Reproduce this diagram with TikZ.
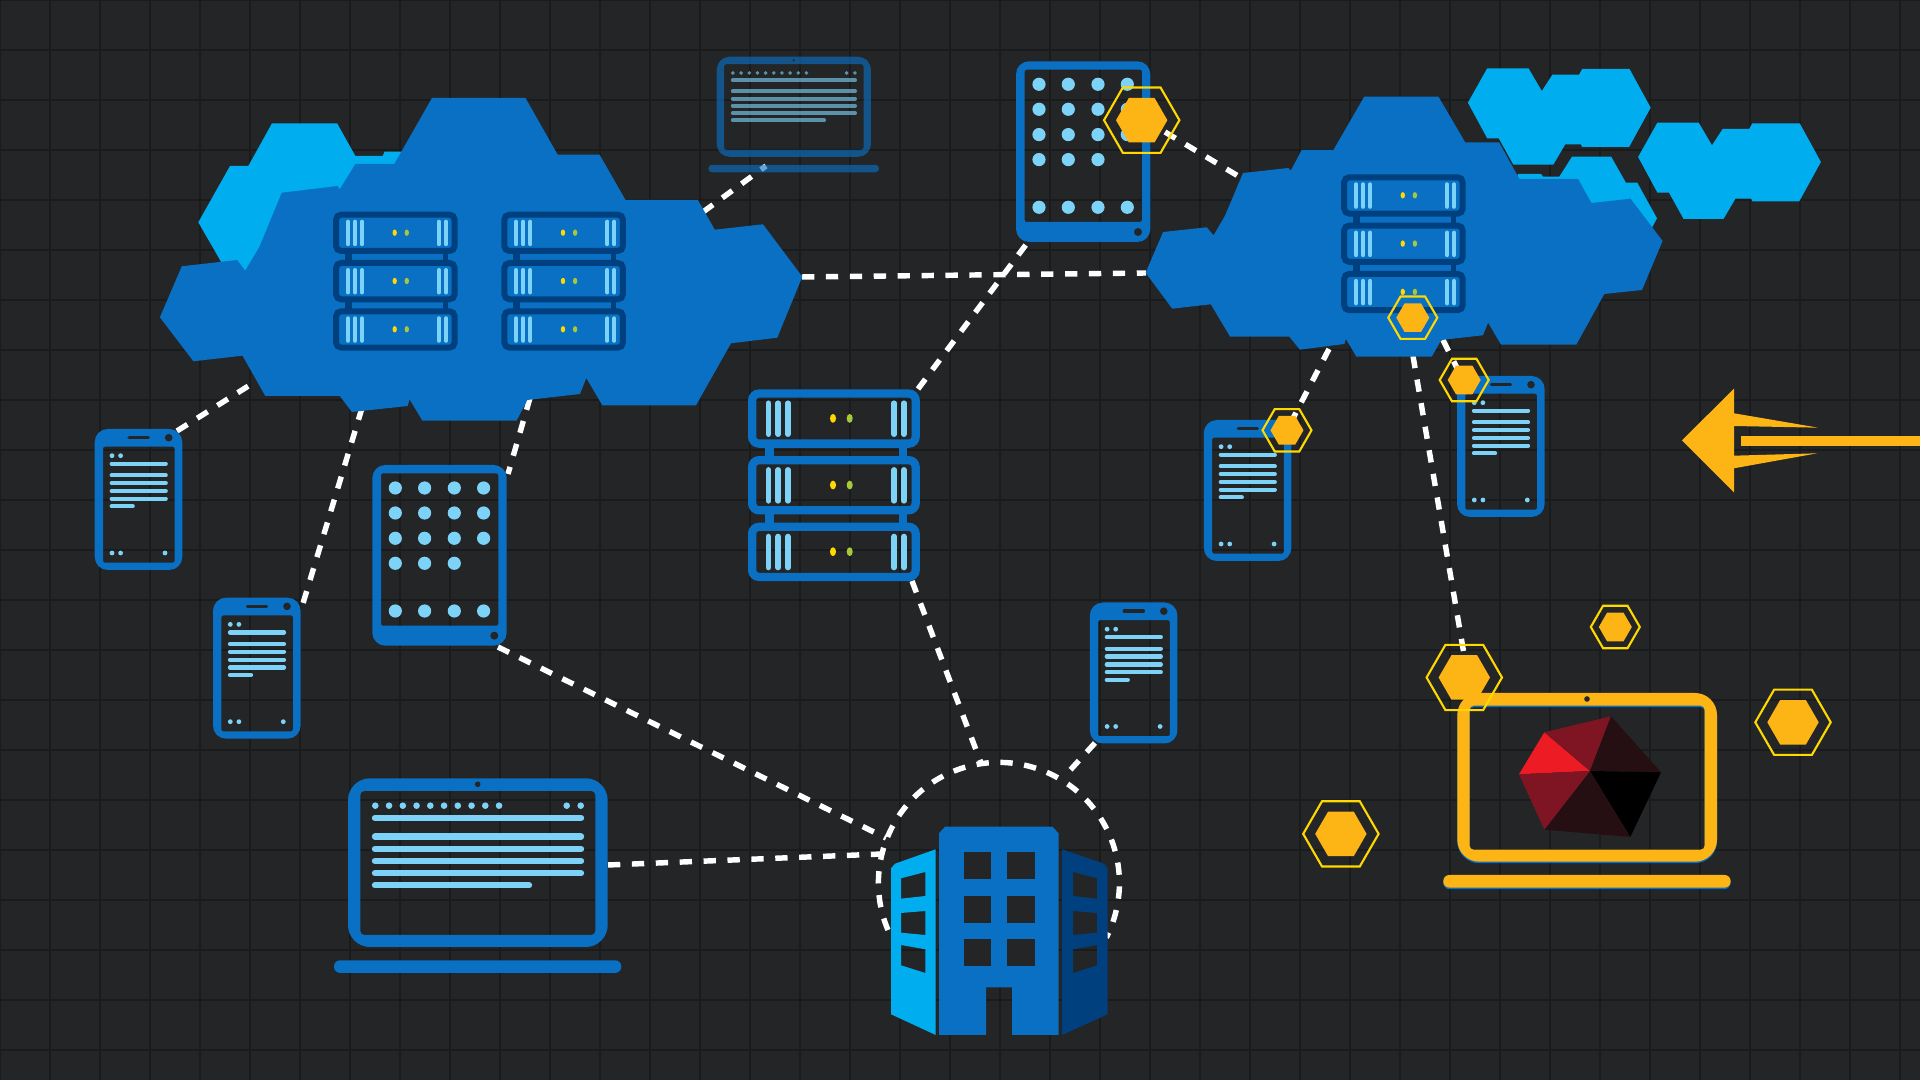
\documentclass[tikz,border=0pt]{standalone}
\definecolor{bgdark}{HTML}{232527}
\definecolor{gridline}{HTML}{191B1D}
\definecolor{cloudblue}{HTML}{0A70C4}
\definecolor{skyblue}{HTML}{00AEEF}
\definecolor{navyblue}{HTML}{00407F}
\definecolor{screenlight}{HTML}{7DD3F7}
\definecolor{amber}{HTML}{FDB515}
\definecolor{hexyellow}{HTML}{FFD800}
\definecolor{ledgreen}{HTML}{A6C83A}
\definecolor{logored}{HTML}{ED1C24}
\definecolor{logomid}{HTML}{7F1522}
\definecolor{logodark}{HTML}{260F12}
\def\pxw{0.01cm}
\tikzset{
  linkline/.style={white,line width=1.55pt,dash pattern=on 3.5pt off 3.3pt},
  lightbar/.style={screenlight,line cap=round},
  hexline/.style={hexyellow,line width=0.6pt},
}
\newcommand{\serverrack}[4]{
  \begin{scope}[shift={(#1,#2)},scale=#3]
    \foreach \u in {0,1,2}
    {
      \draw[#4,line width=#3*6*\pxw,rounded corners=#3*5*\pxw](3,\u*48.3+3)rectangle(121.5,\u*48.3+39.3);
      \foreach \x in {14.8,21.9,28.9,105.9,112.9}
      {
        \draw[lightbar,line width=#3*4*\pxw](\x,\u*48.3+10)--(\x,\u*48.3+32.5);
      }
      \fill[hexyellow](61.6,\u*48.3+21)ellipse(2.2 and 3.2);
      \fill[ledgreen](73.7,\u*48.3+21)ellipse(2.2 and 3.2);
    }
    \foreach \u in {0,1}
    {
      \fill[#4](12,\u*48.3+41)rectangle(18.5,\u*48.3+49);
      \fill[#4](109.5,\u*48.3+41)rectangle(115,\u*48.3+49);
    }
  \end{scope}
}
\newcommand{\phoneicon}[2]{
  \begin{scope}[shift={(#1,#2)}]
    \fill[cloudblue,even odd rule][rounded corners=13*\pxw](0,0)rectangle(87.6,141)[rounded corners=2*\pxw](8.3,17.7)rectangle(80,133.7);
    \draw[bgdark,line width=3.5*\pxw,line cap=round](34.5,8.7)--(53.5,8.7);
    \fill[bgdark](74,8.7)circle(3.8);
    \foreach \x/\y in {17.3/26.7,25.9/26.7,17.3/124,25.9/124,70.3/124}
    {
      \fill[screenlight](\x,\y)circle(2.4);
    }
    \foreach \y in {34.7,46.3,54,62,69.7}
    {
      \draw[lightbar,line width=4.3*\pxw](17,\y)--(71,\y);
    }
    \draw[lightbar,line width=4.3*\pxw](17,77.3)--(38,77.3);
  \end{scope}
}
\newcommand{\tableticon}[2]{
  \begin{scope}[shift={(#1,#2)}]
    \fill[cloudblue,even odd rule][rounded corners=13*\pxw](0,0)rectangle(134.4,180.7)[rounded corners=2*\pxw](8.7,8.3)rectangle(126,160.7);
    \fill[bgdark](122,170.7)circle(4);
    \foreach \x/\y in {23/23,52.3/23,82/23,111.3/23,23/48,52.3/48,82/48,111.3/48,23/73.3,52.3/73.3,82/73.3,111.3/73.3,23/98.3,52.3/98.3,82/98.3,23/146,52.3/146,82/146,111.3/146}
    {
      \fill[screenlight](\x,\y)circle(6.6);
    }
  \end{scope}
}
\newcommand{\laptopframe}[4]{
  \begin{scope}[shift={(#1,#2)},scale=#3]
    \fill[#4,even odd rule][rounded corners=#3*22*\pxw](0,0)rectangle(259.7,168.7)[rounded corners=#3*4*\pxw](12.3,12.7)rectangle(247.3,156.7);
    \fill[#4,rounded corners=#3*6*\pxw](-14,182)rectangle(273.3,194.6);
    \fill[bgdark](129.7,6)circle(2.8);
  \end{scope}
}
\newcommand{\laptoptext}[3]{
  \begin{scope}[shift={(#1,#2)},scale=#3]
    \foreach \i in {0,...,9}
    {
      \fill[screenlight](27.3+\i*13.75,27.4)circle(3.3);
    }
    \fill[screenlight](218.7,27.4)circle(3.3);
    \fill[screenlight](232.7,27.4)circle(3.3);
    \foreach \y in {39.7,58.4,70.7,82.7,95}
    {
      \draw[lightbar,line width=#3*6.4*\pxw](27,\y)--(233,\y);
    }
    \draw[lightbar,line width=#3*6.4*\pxw](27,107)--(181,107);
  \end{scope}
}
\newcommand{\hexmark}[4]{
  \begin{scope}[shift={(#1,#2)}]
    \draw[hexline](0:#3)--(60:#3)--(120:#3)--(180:#3)--(240:#3)--(300:#3)--cycle;
    \fill[amber](0:#4)--(60:#4)--(120:#4)--(180:#4)--(240:#4)--(300:#4)--cycle;
  \end{scope}
}
\newcommand{\cloudsmall}[2]{
  \fill[skyblue,shift={(#1,#2)}](1487.2,68.3)--(1528.5,68.3)--(1541.8,91)--(1552.4,74.7)--(1579,74.7)--(1582.2,69)--(1629.5,69)--(1650.7,107.7)--(1629.1,147)--(1582.2,147)--(1580.9,144.3)--(1565.3,144.3)--(1553.3,164.7)--(1513.4,164.7)--(1498.7,138.3)--(1487.2,138.3)--(1467.9,102.7)--cycle;
}
\begin{document}
\begin{tikzpicture}[x=0.01cm,y=-0.01cm]
\useasboundingbox(0,0)rectangle(1920,1080);
\fill[bgdark](0,0)rectangle(1920,1080);
\foreach \x in {0,50,...,1900}
{
    \draw[gridline,line width=0.45pt](\x,0)--(\x,1080);
}
\foreach \y in {0,50,...,1050}
{
    \draw[gridline,line width=0.45pt](0,\y)--(1920,\y);
}

\coordinate(phoneA) at (177,431);
\coordinate(cloudA) at (250,385);
\coordinate(cloudB) at (362,408);
\coordinate(phoneB) at (301,610);
\coordinate(cloudC) at (530,398);
\coordinate(tabletA) at (508,474);
\coordinate(cloudD) at (703,212);
\coordinate(laptopS) at (766,166);
\coordinate(cloudE) at (802,277);
\coordinate(cloudF) at (1146,273);
\coordinate(tabletH) at (1165,132);
\coordinate(cloudG) at (1243,179);
\coordinate(rackT) at (918,389);
\coordinate(tabletB) at (1028,242);
\coordinate(rackB) at (912,581);
\coordinate(domeT) at (981,763);
\coordinate(tabletC) at (498,647);
\coordinate(domeL) at (886,838);
\coordinate(laptopB) at (608,865);
\coordinate(domeM) at (882,854);
\coordinate(phoneE) at (1095,743);
\coordinate(domeR) at (1063,778);
\coordinate(cloudH) at (1329,349);
\coordinate(hexC) at (1287,430);
\coordinate(cloudI) at (1413,356);
\coordinate(hexA) at (1465,660);
\coordinate(cloudJ) at (1443,340);
\coordinate(hexD) at (1462,378);
\coordinate(domeS) at (888,930);

\foreach \a/\b in {phoneA/cloudA,cloudB/phoneB,cloudC/tabletA,cloudD/laptopS,cloudE/cloudF,tabletH/cloudG,rackT/tabletB,rackB/domeT,tabletC/domeL,laptopB/domeM,phoneE/domeR,cloudH/hexC,cloudI/hexA,cloudJ/hexD}
{
    \draw[linkline](\a)--(\b);
}
\draw[linkline](domeS)arc[start angle=157,end angle=387,radius=120.5];

\fill[skyblue](272,123.3)--(337.1,123.3)--(355.4,156)--(382.7,156)--(384.5,151.7)--(401,151.7)--(420,200)--(300,300)--(245.2,270.7)--(221,261.7)--(198.3,222.3)--(230,166)--(248.3,166)--cycle;
\fill[skyblue](1518,174)--(1541,174)--(1543,176.7)--(1559.3,176.7)--(1572,156.7)--(1611.2,156.7)--(1625.9,182.7)--(1637.3,182.7)--(1657,218.3)--(1652.5,226.7)--(1600,260)--(1500,220)--cycle;
\cloudsmall{0}{0}
\cloudsmall{170.2}{54.3}

\fill[cloudblue](432,98)--(525.5,98)--(557.7,154.7)--(599.6,154.7)--(625.5,200)--(697.9,200)--(714.8,229.7)--(763,224.3)--(802.3,276.7)--(777.3,337.7)--(731,343.3)--(696,405.3)--(602.3,405.3)--(586.3,378)--(580,394)--(527.3,400)--(516.6,420.7)--(422.4,420.7)--(409.5,399.3)--(407.7,406)--(351.9,412)--(339.8,396)--(265.3,396)--(242.5,355.7)--(193.4,361.3)--(159.9,317.3)--(181.8,266.3)--(237.1,260)--(245.2,270.7)--(259.5,246.7)--(281.8,192.7)--(337.6,186)--(339.8,189.3)--(355.4,164)--(394.3,164)--cycle;
\fill[cloudblue](1364.2,96.7)--(1438.5,96.7)--(1465.2,142.3)--(1499.1,142.3)--(1519.4,179)--(1578.1,179)--(1591.4,203)--(1630.5,198.7)--(1662.6,241)--(1642,290)--(1604.3,294)--(1576.3,344.7)--(1501,344.7)--(1488.1,322.7)--(1483,335.3)--(1441.3,340)--(1431.7,356.7)--(1356.4,356.7)--(1345.8,339)--(1344.4,344)--(1299.9,349.7)--(1289.3,336.7)--(1230.1,336.7)--(1210.8,304.3)--(1172.2,308.7)--(1145.6,272.7)--(1163.1,232)--(1206.7,227.3)--(1213.6,235.3)--(1225,215.7)--(1243,173)--(1288.4,168)--(1290.7,170.7)--(1301.7,150)--(1333.4,150)--cycle;

\serverrack{333.1}{211.7}{1}{navyblue}
\serverrack{501.4}{211.7}{1}{navyblue}
\serverrack{1341.2}{174.3}{1}{navyblue}
\serverrack{748}{389.4}{1.38}{cloudblue}

\phoneicon{94.7}{429}
\phoneicon{213}{597.7}
\phoneicon{1203.8}{420}
\phoneicon{1457}{376}
\phoneicon{1089.8}{602.5}
\tableticon{372.3}{465}
\tableticon{1016}{61.3}

\laptopframe{348}{778.3}{1}{cloudblue}
\laptoptext{348}{778.3}{1}
\begin{scope}[opacity=.63]
\laptopframe{716.7}{56.7}{.594}{cloudblue}
\laptoptext{716.7}{56.7}{.594}
\end{scope}
\laptopframe{1457.3}{694.5}{1}{cloudblue}
\laptopframe{1457.3}{693}{1}{amber}

\fill[skyblue,even odd rule](935.7,849.3)--(935.7,1035)--(891,1014.3)--(891,868.3)--(895,863.7)--cycle (901,878.3)--(925.3,872)--(925.3,896)--(901,898.7)--cycle (901,913)--(925.3,911)--(925.3,935)--(901,932.7)--cycle (901,945)--(925.3,949.3)--(925.3,973)--(901,965.3)--cycle;
\fill[navyblue,even odd rule](1062,849.3)--(1062,1035)--(1107.7,1014.3)--(1107.7,868.3)--(1104,863.7)--cycle (1073,872)--(1097,878.3)--(1097,898.7)--(1073,896)--cycle (1073,911)--(1097,913)--(1097,932.7)--(1073,935)--cycle (1073,949.3)--(1097,945)--(1097,965.3)--(1073,973)--cycle;
\fill[cloudblue](939,833.3)--(945,826.7)--(1052.3,826.7)--(1058.7,833.3)--(1058.7,1035)--(1012,1035)--(1012,987.3)--(986,987.3)--(986,1035)--(939,1035)--cycle;
\foreach \x in {964,1007.3}
{
    \foreach \y in {851.7,896,939}
    {
        \fill[bgdark](\x,\y)rectangle(\x+27.3,\y+27.2);
    }
}

\coordinate(logoC) at (1590,771);
\coordinate(logoA) at (1544.3,732.3);
\coordinate(logoB) at (1611,716.3);
\coordinate(logoD) at (1661,772.3);
\coordinate(logoE) at (1630.3,837);
\coordinate(logoF) at (1544.3,829.7);
\coordinate(logoG) at (1519,774.3);
\foreach \p/\q/\c in {logoA/logoG/logored,logoA/logoB/logomid,logoB/logoD/logodark,logoD/logoE/black,logoE/logoF/logodark,logoF/logoG/logomid}
{
    \fill[\c](logoC)--(\p)--(\q)--cycle;
}

\foreach \x/\y in {1464.3/677.5,1793/722.3,1340.9/833.9,1141.7/120.2}
{
    \hexmark{\x}{\y}{37.7}{25.7}
}
\foreach \x/\y in {1615.3/627,1412.8/317.7,1464.2/380,1287/430.3}
{
    \hexmark{\x}{\y}{24.5}{16.5}
}

\fill[amber](1682,440.3)--(1734,388.7)--(1734,413.3)--(1818.3,427.7)--(1734,426)--(1734,455.7)--(1817.3,453.3)--(1734,468.3)--(1734,492.3)--cycle;
\fill[amber](1741,435.7)rectangle(1920,445.7);
\end{tikzpicture}
\end{document}
